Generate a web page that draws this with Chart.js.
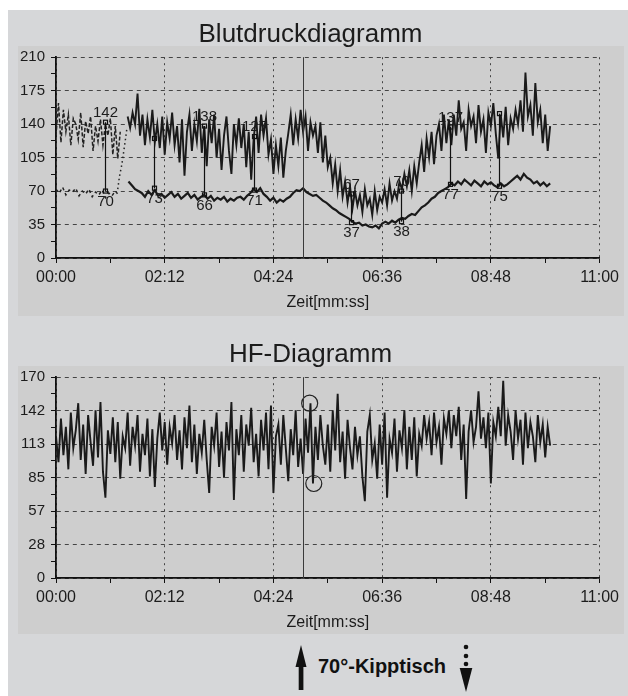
<!DOCTYPE html>
<html>
<head>
<meta charset="utf-8">
<script src="https://cdn.jsdelivr.net/npm/chart.js@4.4.1/dist/chart.umd.min.js"></script>
<style>
  html, body { margin: 0; padding: 0; background: #fff; overflow: hidden; width: 628px; height: 696px; }
  .abs { position: absolute; }
  #bg { left: 8px; top: 10px; width: 620px; height: 686px; background: #d6d7d9; }
  .panel { left: 18px; width: 606px; background: #cecece; }
</style>
</head>
<body>
<div id="bg" class="abs"></div>
<div class="abs panel" style="top:46px;height:270px"></div>
<div class="abs panel" style="top:366px;height:268px"></div>
<canvas id="bpChart" class="abs" width="606" height="302" style="left:18px;top:14px"></canvas>
<canvas id="hfChart" class="abs" width="606" height="302" style="left:18px;top:334px"></canvas>
<svg class="abs" width="628" height="56" style="left:0;top:640px">
  <polygon points="301,5 295.5,27 306.5,27" fill="#111"/>
  <rect x="298.7" y="26" width="4.7" height="24" fill="#111"/>
  <text x="318" y="33" font-family="Liberation Sans, Arial, sans-serif" font-size="20" font-weight="bold" fill="#111">70°-Kipptisch</text>
  <circle cx="466" cy="7" r="2.3" fill="#111"/>
  <circle cx="466" cy="16" r="2.3" fill="#111"/>
  <circle cx="466" cy="24" r="2.3" fill="#111"/>
  <polygon points="459.7,28 472.3,28 466,52" fill="#111"/>
</svg>
<script>
// axes
const xTickValues = [0, 66, 132, 198, 264, 330, 396, 462, 528, 594, 660];
const timeLabels = ['00:00', '02:12', '04:24', '06:36', '08:48', '11:00'];
const bpYTicks = [0, 17.5, 35, 52.5, 70, 87.5, 105, 122.5, 140, 157.5, 175, 192.5, 210];
const bpYLabels = ['0', '35', '70', '105', '140', '175', '210'];
const hfYTicks = [0, 14.17, 28.33, 42.5, 56.67, 70.83, 85, 99.17, 113.33, 127.5, 141.67, 155.83, 170];
const hfYLabels = ['0', '28', '57', '85', '113', '142', '170'];

// systolic, seconds, sampled every 3 s
const sysEarlyStart = 0, sysMainStart = 87, sysStep = 3;
const sysEarly = [128,162,121,155,132,150,118,146,140,124,152,116,143,130,148,112,138,122,145,118,140,128,146,108,138,104,132];
const sysMain = [
  148,136,152,140,172,
  128,150,118,145,126,155,121,140,115,148,108,142,125,152,118,138,100,145,86,132,
  150,112,140,122,156,110,138,96,145,120,150,105,135,92,128,148,112,88,140,118,146,
  115,140,95,132,82,125,148,110,
  150,128,146,
  108,124,88,118,96,126,84,112,
  130,150,118,145,125,155,132,148,112,142,128,
  138,110,142,100,128,95,
  105,78,98,70,92,64,
  80,58,75,52,70,55,
  66,48,72,55,62,45,70,50,64,58,
  72,55,78,60,70,62,
  80,72,88,75,92,70,96,78,
  100,118,90,125,105,132,98,128,
  140,112,150,120,145,118,
  150,128,165,135,142,112,155,138,148,120,160,132,145,110,152,138,162,130,
  104,150,126,158,118,146,135,155,
  140,165,132,194,148,160,128,183,142,155,
  120,150,112,138
];

// diastolic, sampled every 4 s
const diaEarlyStart = 0, diaMainStart = 88, diaStep = 4;
const diaEarly = [72,68,74,66,71,69,73,65,70,67,72,64,69,66,71,63,68,65,70,66];
const diaMain = [
  80,76,72,70,
  68,64,70,66,71,65,67,63,66,69,64,67,62,65,68,63,66,61,64,66,62,65,60,63,61,64,59,62,60,63,
  64,61,65,68,72,69,73,67,64,60,63,58,61,59,62,64,68,71,
  70,73,69,67,65,66,
  63,60,58,55,52,50,47,45,43,41,
  38,36,37,34,35,33,32,34,31,36,
  38,36,39,37,40,42,41,44,46,45,49,
  53,55,58,62,64,68,70,72,74,
  78,76,80,77,82,79,76,81,78,75,80,77,79,
  76,74,78,75,77,80,
  83,86,82,88,84,
  82,78,80,76,79,75,78
];

// dotted connector before the main recording
const linkTimes = [75, 77, 80, 82, 84, 86];
const linkValues = [72, 85, 98, 110, 122, 135];

// cuff measurements
const measTimes = [60, 119, 180, 240, 358, 419, 478, 538];
const measSys = [142, 125, 138, 127, 67, 70, 137, 151];
const measDia = [70, 73, 66, 71, 37, 38, 77, 75];
const measSysLabels = ['142', '', '138', '127', '67', '70', '137', ''];
const measDiaLabels = ['70', '73', '66', '71', '37', '38', '77', '75'];

// heart rate, sampled every 3 s
const hfStart = 0, hfStep = 3;
const hf = [
  120,98,135,104,128,92,140,110,125,148,
  100,130,88,138,115,95,142,102,149,90,
  68,125,105,136,98,132,84,120,110,140,
  95,128,112,138,90,122,104,135,86,126,
  77,118,140,108,132,96,128,114,138,100,
  125,92,136,110,146,98,130,88,122,106,
  134,100,72,128,112,140,94,124,85,132,
  108,149,66,126,104,138,90,130,112,144,
  98,122,86,134,108,140,92,146,72,120,
  130,96,138,110,82,126,104,142,94,118,
  88,135,106,148,80,128,100,138,112,96,
  130,90,142,108,156,98,124,84,134,110,
  92,128,104,120,86,65,124,138,100,114,
  84,130,96,140,68,118,106,135,90,125,
  110,142,92,128,100,136,86,122,112,138,
  118,132,104,140,115,128,96,135,122,142,
  110,138,120,145,100,130,67,124,142,115,
  128,158,118,136,110,140,80,132,120,145,
  120,167,112,138,124,100,142,118,134,96,
  140,110,132,120,98,138,115,130,102,128,
  112
];
const hfMarkTimes = [308, 313];
const hfMarkValues = [148, 80];

const tiltTime = 300;

const FONT = '"Liberation Sans", Arial, Helvetica, sans-serif';
const INK = '#1c1c1c';

function toPoints(start, step, values) {
  return values.map((v, i) => ({ x: start + i * step, y: v }));
}

const tiltLine = {
  id: 'tiltLine',
  afterDatasetsDraw(chart) {
    const { ctx, chartArea, scales } = chart;
    const px = Math.round(scales.x.getPixelForValue(tiltTime)) + 0.5;
    ctx.save();
    ctx.strokeStyle = '#3a3a3a';
    ctx.lineWidth = 1;
    ctx.beginPath();
    ctx.moveTo(px, chartArea.top);
    ctx.lineTo(px, chartArea.bottom);
    ctx.stroke();
    ctx.restore();
  }
};

const bpMarks = {
  id: 'bpMarks',
  afterDatasetsDraw(chart) {
    const { ctx, scales: { x, y } } = chart;
    ctx.save();
    ctx.strokeStyle = '#111';
    ctx.lineWidth = 1.2;
    ctx.font = '15px ' + FONT;
    ctx.fillStyle = INK;
    ctx.textAlign = 'center';
    measTimes.forEach((t, i) => {
      const px = Math.round(x.getPixelForValue(t)) + 0.5;
      const yt = y.getPixelForValue(measSys[i]);
      const yb = y.getPixelForValue(measDia[i]);
      ctx.beginPath();
      ctx.moveTo(px, yt);
      ctx.lineTo(px, yb);
      ctx.stroke();
      ctx.strokeRect(px - 2, yt - 2, 4, 4);
      ctx.strokeRect(px - 2, yb - 2, 4, 4);
      ctx.textBaseline = 'bottom';
      ctx.fillText(measSysLabels[i], px, yt - 2);
      ctx.textBaseline = 'top';
      ctx.fillText(measDiaLabels[i], px, yb + 3);
    });
    ctx.restore();
  }
};

const hfMarks = {
  id: 'hfMarks',
  afterDatasetsDraw(chart) {
    const { ctx, scales: { x, y } } = chart;
    ctx.save();
    ctx.strokeStyle = '#222';
    ctx.lineWidth = 1.2;
    hfMarkTimes.forEach((t, i) => {
      ctx.beginPath();
      ctx.arc(x.getPixelForValue(t), y.getPixelForValue(hfMarkValues[i]), 8, 0, Math.PI * 2);
      ctx.stroke();
    });
    ctx.restore();
  }
};

function makeChart(id, title, yMax, yTicks, yLabels, datasets, plugins) {
  return new Chart(document.getElementById(id), {
    type: 'line',
    data: { datasets },
    options: {
      responsive: false,
      animation: false,
      devicePixelRatio: 1,
      layout: { padding: { left: 0, right: 21, top: 0, bottom: 0 } },
      elements: { point: { radius: 0 }, line: { tension: 0, borderWidth: 1 } },
      plugins: {
        legend: { display: false },
        tooltip: { enabled: false },
        title: {
          display: true,
          text: title,
          color: INK,
          font: { family: FONT, size: 26, weight: 'normal' },
          padding: { top: 5, bottom: 7 }
        }
      },
      scales: {
        x: {
          type: 'linear',
          min: 0,
          max: 660,
          afterBuildTicks: s => { s.ticks = xTickValues.map(v => ({ value: v })); },
          afterFit: s => { s.height = 58; },
          ticks: {
            autoSkip: false,
            maxRotation: 0,
            padding: 5,
            color: INK,
            font: { family: FONT, size: 16 },
            callback: (v, i) => (i % 2 === 0 ? timeLabels[i / 2] : '')
          },
          grid: {
            color: c => (c.index % 2 === 0 ? '#444' : 'rgba(0,0,0,0)'),
            tickColor: '#111',
            tickLength: 5,
            lineWidth: 1
          },
          border: { color: '#111', width: 1.8, dash: [2, 4] },
          title: {
            display: true,
            text: 'Zeit[mm:ss]',
            color: INK,
            font: { family: FONT, size: 16 },
            padding: { top: 0, bottom: 4 }
          }
        },
        y: {
          min: 0,
          max: yMax,
          afterBuildTicks: s => { s.ticks = yTicks.map(v => ({ value: v })); },
          afterFit: s => { s.width = 38; },
          ticks: {
            autoSkip: false,
            padding: 6,
            color: INK,
            font: { family: FONT, size: 15 },
            callback: (v, i) => (i % 2 === 0 ? yLabels[i / 2] : '')
          },
          grid: {
            color: c => (c.index % 2 === 0 ? '#444' : 'rgba(0,0,0,0)'),
            tickColor: '#111',
            tickLength: 5,
            lineWidth: 1
          },
          border: { color: '#111', width: 1.8, dash: [4, 4] }
        }
      }
    },
    plugins
  });
}

makeChart('bpChart', 'Blutdruckdiagramm', 210, bpYTicks, bpYLabels, [
  { data: toPoints(sysEarlyStart, sysStep, sysEarly), borderColor: '#222', borderWidth: 1.5, borderDash: [4, 2] },
  { data: toPoints(sysMainStart, sysStep, sysMain), borderColor: '#1a1a1a', borderWidth: 1.9 },
  { data: toPoints(diaEarlyStart, diaStep, diaEarly), borderColor: '#222', borderWidth: 1.5, borderDash: [3, 3] },
  { data: toPoints(diaMainStart, diaStep, diaMain), borderColor: '#1a1a1a', borderWidth: 2.2 },
  { data: linkTimes.map((t, i) => ({ x: t, y: linkValues[i] })), borderColor: '#222', borderWidth: 1.5, borderDash: [1.5, 3] }
], [bpMarks, tiltLine]);

makeChart('hfChart', 'HF-Diagramm', 170, hfYTicks, hfYLabels, [
  { data: toPoints(hfStart, hfStep, hf), borderColor: '#1a1a1a', borderWidth: 1.9 }
], [hfMarks, tiltLine]);
</script>
</body>
</html>
